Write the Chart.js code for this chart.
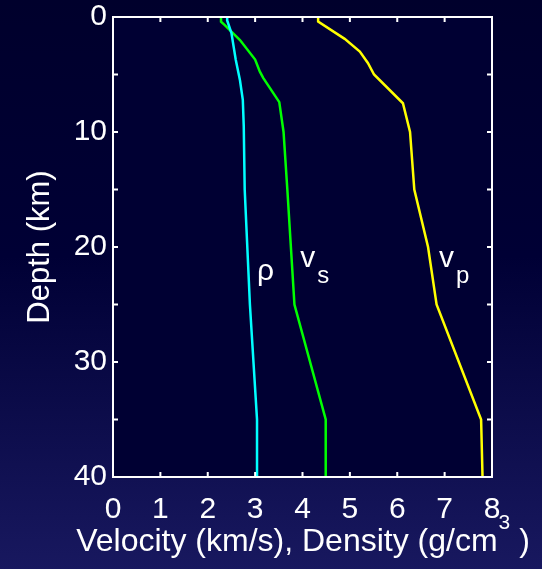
<!DOCTYPE html>
<html>
<head>
<meta charset="utf-8">
<script src="https://cdn.jsdelivr.net/npm/chart.js@4/dist/chart.umd.min.js"></script>
<style>
  html, body { margin: 0; padding: 0; }
  body {
    width: 542px; height: 569px; overflow: hidden;
    background: linear-gradient(to bottom, #00002c 0%, #000035 45%, #18185f 100%);
  }
  canvas { display: block; }
</style>
</head>
<body>
<canvas id="cv" width="542" height="569"></canvas>
<script>
// ---- data (depth in km, values in km/s or g/cm3) ----
const X_TICKS = [0, 1, 2, 3, 4, 5, 6, 7, 8];
const Y_TICKS = [0, 10, 20, 30, 40];
const Y_MINOR = [5, 15, 25, 35];

const vpDepth = [0, 0.4, 1.9, 3.0, 4.0, 5.0, 7.5, 10, 15, 20, 25, 35, 40];
const vp      = [4.33, 4.33, 4.89, 5.21, 5.38, 5.51, 6.12, 6.27, 6.36, 6.65, 6.83, 7.77, 7.80];

const vsDepth = [0, 0.4, 0.7, 2.0, 3.7, 4.75, 5.3, 7.4, 10, 15, 25, 35, 40];
const vs      = [2.28, 2.28, 2.36, 2.68, 3.00, 3.10, 3.17, 3.51, 3.60, 3.68, 3.83, 4.49, 4.49];

const rhoDepth = [0, 0.3, 1.4, 3.7, 5.5, 7.2, 9.5, 15, 25, 35, 40];
const rho      = [2.41, 2.41, 2.50, 2.59, 2.68, 2.74, 2.76, 2.78, 2.89, 3.04, 3.04];

// curve labels: main text, subscript, anchor in data units (velocity, depth of baseline)
const LABELS = [
  { main: 'ρ', sub: '',  x: 3.04, y: 22.9 },
  { main: 'v', sub: 's', x: 3.95, y: 21.7 },
  { main: 'v', sub: 'p', x: 6.88, y: 21.7 }
];

const pts = (d, v) => d.map((dep, i) => ({ x: v[i], y: dep }));
const FONT = '"Liberation Sans", Arial, sans-serif';
Chart.defaults.font.family = FONT;
Chart.defaults.color = '#ffffff';

const frame = {
  id: 'frame',
  beforeDraw(chart) {
    const { ctx, chartArea: a } = chart;
    ctx.save();
    ctx.fillStyle = '#000033';
    ctx.fillRect(a.left, a.top, a.right - a.left, a.bottom - a.top);
    ctx.restore();
  },
  afterDatasetsDraw(chart) {
    const { ctx, chartArea: a, scales: { x, y } } = chart;
    ctx.save();
    // box + inward ticks
    ctx.strokeStyle = '#ffffff';
    ctx.lineWidth = 2;
    ctx.strokeRect(a.left, a.top, a.right - a.left, a.bottom - a.top);
    ctx.beginPath();
    X_TICKS.forEach(v => {
      const px = x.getPixelForValue(v);
      ctx.moveTo(px, a.bottom); ctx.lineTo(px, a.bottom - 5);
      ctx.moveTo(px, a.top);    ctx.lineTo(px, a.top + 5);
    });
    Y_TICKS.concat(Y_MINOR).forEach(v => {
      const py = y.getPixelForValue(v);
      ctx.moveTo(a.left, py);  ctx.lineTo(a.left + 5, py);
      ctx.moveTo(a.right, py); ctx.lineTo(a.right - 5, py);
    });
    ctx.stroke();

    // curve labels
    ctx.fillStyle = '#ffffff';
    ctx.textBaseline = 'alphabetic';
    ctx.textAlign = 'left';
    LABELS.forEach(l => {
      const px = x.getPixelForValue(l.x), py = y.getPixelForValue(l.y);
      ctx.font = '30px ' + FONT;
      ctx.fillText(l.main, px, py);
      if (l.sub) {
        const w = ctx.measureText(l.main).width;
        ctx.font = '24px ' + FONT;
        ctx.fillText(l.sub, px + w + 2, py + 16);
      }
    });

    // x axis title with superscript
    const t1 = 'Velocity (km/s), Density (g/cm', t2 = '3', t3 = ' )';
    ctx.font = '32px ' + FONT;
    const w1 = ctx.measureText(t1).width, w3 = ctx.measureText(t3).width;
    ctx.font = '21px ' + FONT;
    const w2 = ctx.measureText(t2).width;
    let cx = (a.left + a.right) / 2 - (w1 + w2 + w3) / 2;
    const base = 551;
    ctx.font = '32px ' + FONT;
    ctx.fillText(t1, cx, base);
    ctx.font = '21px ' + FONT;
    ctx.fillText(t2, cx + w1 + 1, base - 22);
    ctx.font = '32px ' + FONT;
    ctx.fillText(t3, cx + w1 + w2 + 1, base);
    ctx.restore();
  }
};

new Chart(document.getElementById('cv'), {
  type: 'scatter',
  data: {
    datasets: [
      { label: 'rho', data: pts(rhoDepth, rho), borderColor: '#00ffff' },
      { label: 'vs',  data: pts(vsDepth, vs),   borderColor: '#00ff00' },
      { label: 'vp',  data: pts(vpDepth, vp),   borderColor: '#ffff00' }
    ].map(d => Object.assign(d, { showLine: true, pointRadius: 0, borderWidth: 2.5, tension: 0 }))
  },
  options: {
    responsive: false,
    animation: false,
    layout: { padding: { top: 17, right: 50, left: 0, bottom: 0 } },
    plugins: { legend: { display: false }, tooltip: { enabled: false } },
    scales: {
      x: {
        type: 'linear', min: 0, max: 8,
        grid: { display: false, drawTicks: false },
        border: { display: false },
        ticks: { stepSize: 1, padding: 15, color: '#ffffff', font: { size: 30 }, maxRotation: 0 },
        afterFit: s => { s.height = 92; s.paddingLeft = 0; s.paddingRight = 0; }
      },
      y: {
        type: 'linear', min: 0, max: 40, reverse: true,
        grid: { display: false, drawTicks: false },
        border: { display: false },
        ticks: { stepSize: 10, padding: 6, color: '#ffffff', font: { size: 30 } },
        title: { display: true, text: 'Depth (km)', color: '#ffffff', font: { size: 31 }, padding: { top: 22, bottom: 0 } },
        afterFit: s => { s.width = 113; s.paddingTop = 0; s.paddingBottom = 0; }
      }
    }
  },
  plugins: [frame]
});
</script>
</body>
</html>
